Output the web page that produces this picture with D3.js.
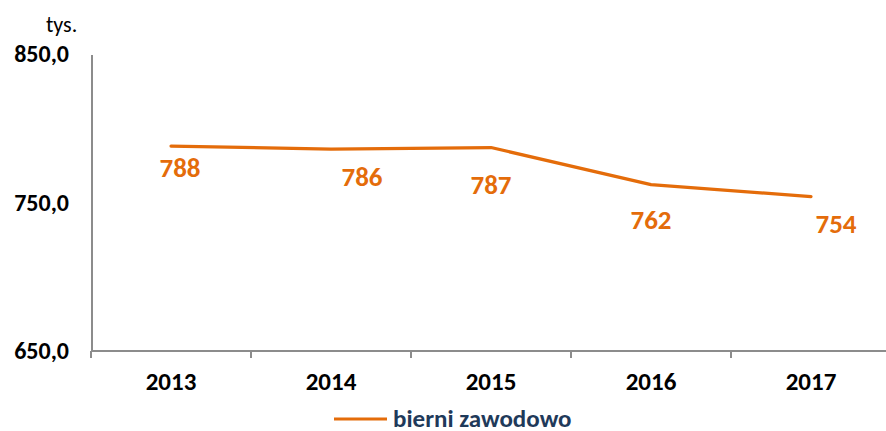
<!DOCTYPE html>
<html lang="pl">

<head>
  <meta charset="utf-8">
  <title>bierni zawodowo</title>
  <script src="https://d3js.org/d3.v7.min.js"></script>
  <style>
    body {
      margin: 0;
      background: #ffffff;
    }

    #chart text {
      font-family: Carlito, Calibri, Lato, sans-serif;
    }

    .axis path,
    .axis line {
      fill: none;
      stroke: #8c8c8c;
      stroke-width: 2px;
      shape-rendering: crispEdges;
    }

    .axis text {
      fill: #000;
      font-weight: bold;
    }
  </style>
</head>

<body>
  <div id="chart"></div>

  <script>
    // data
    var years = ['2013', '2014', '2015', '2016', '2017'];
    var values = [788, 786, 787, 762, 754];
    var yTicks = [650, 750, 850];
    var seriesName = 'bierni zawodowo';
    var unitLabel = 'tys.';

    // label placement nudges (layout only)
    var labelDx = [9, 31, 0, 0, 25];
    var labelDy = [21, 27, 37, 35, 27];

    var width = 886, height = 431;
    var margin = { top: 54, right: -5, bottom: 80, left: 91 };
    var innerW = width - margin.left - margin.right,
      innerH = height - margin.top - margin.bottom;

    var orange = '#e46c0a';

    var svg = d3.select('#chart')
      .append('svg')
      .attr('width', width)
      .attr('height', height);

    var g = svg.append('g')
      .attr('transform', 'translate(' + margin.left + ',' + margin.top + ')');

    var x = d3.scaleBand()
      .domain(years)
      .range([0, innerW]);

    var y = d3.scaleLinear()
      .domain([650, 850])
      .range([innerH, 0]);

    // y axis: only the line, labels placed left
    var yAxis = g.append('g')
      .attr('class', 'axis')
      .call(d3.axisLeft(y).tickValues(yTicks).tickSize(0)
        .tickFormat(d => d3.format('.1f')(d).replace('.', ',')));
    yAxis.selectAll('text')
      .attr('x', -22)
      .style('font-size', '24px');

    // x axis with ticks between categories
    var xAxis = g.append('g')
      .attr('class', 'axis')
      .attr('transform', 'translate(0,' + innerH + ')')
      .call(d3.axisBottom(x).tickSize(0).tickPadding(21));
    xAxis.selectAll('text').style('font-size', '25px');
    xAxis.select('.domain').attr('d', 'M0,0H' + innerW);
    xAxis.selectAll('.sep')
      .data(years)
      .enter()
      .append('line')
      .attr('class', 'sep')
      .attr('x1', d => x(d))
      .attr('x2', d => x(d))
      .attr('y1', 0)
      .attr('y2', 7);

    // unit label
    svg.append('text')
      .attr('x', 46)
      .attr('y', 32)
      .attr('font-size', 22)
      .attr('fill', '#000')
      .text(unitLabel);

    var pts = years.map((d, i) => ({ year: d, value: values[i], i: i }));

    var line = d3.line()
      .x(d => x(d.year) + x.bandwidth() / 2)
      .y(d => y(d.value));

    g.append('path')
      .datum(pts)
      .attr('fill', 'none')
      .attr('stroke', orange)
      .attr('stroke-width', 3.2)
      .attr('stroke-linejoin', 'round')
      .attr('stroke-linecap', 'round')
      .attr('d', line);

    g.selectAll('.lbl')
      .data(pts)
      .enter()
      .append('text')
      .attr('class', 'lbl')
      .attr('x', d => x(d.year) + x.bandwidth() / 2 + labelDx[d.i])
      .attr('y', d => y(d.value) + labelDy[d.i])
      .attr('dy', '0.36em')
      .attr('text-anchor', 'middle')
      .attr('font-size', 27)
      .attr('font-weight', 'bold')
      .attr('fill', orange)
      .text(d => d.value);

    // legend
    var legend = svg.append('g')
      .attr('transform', 'translate(334,419)');
    legend.append('line')
      .attr('x1', 0)
      .attr('x2', 53)
      .attr('stroke', orange)
      .attr('stroke-width', 3.2);
    legend.append('text')
      .attr('x', 59)
      .attr('y', 8)
      .attr('font-size', 25)
      .attr('font-weight', 'bold')
      .attr('fill', '#1f3a5a')
      .text(seriesName);
  </script>
</body>

</html>
